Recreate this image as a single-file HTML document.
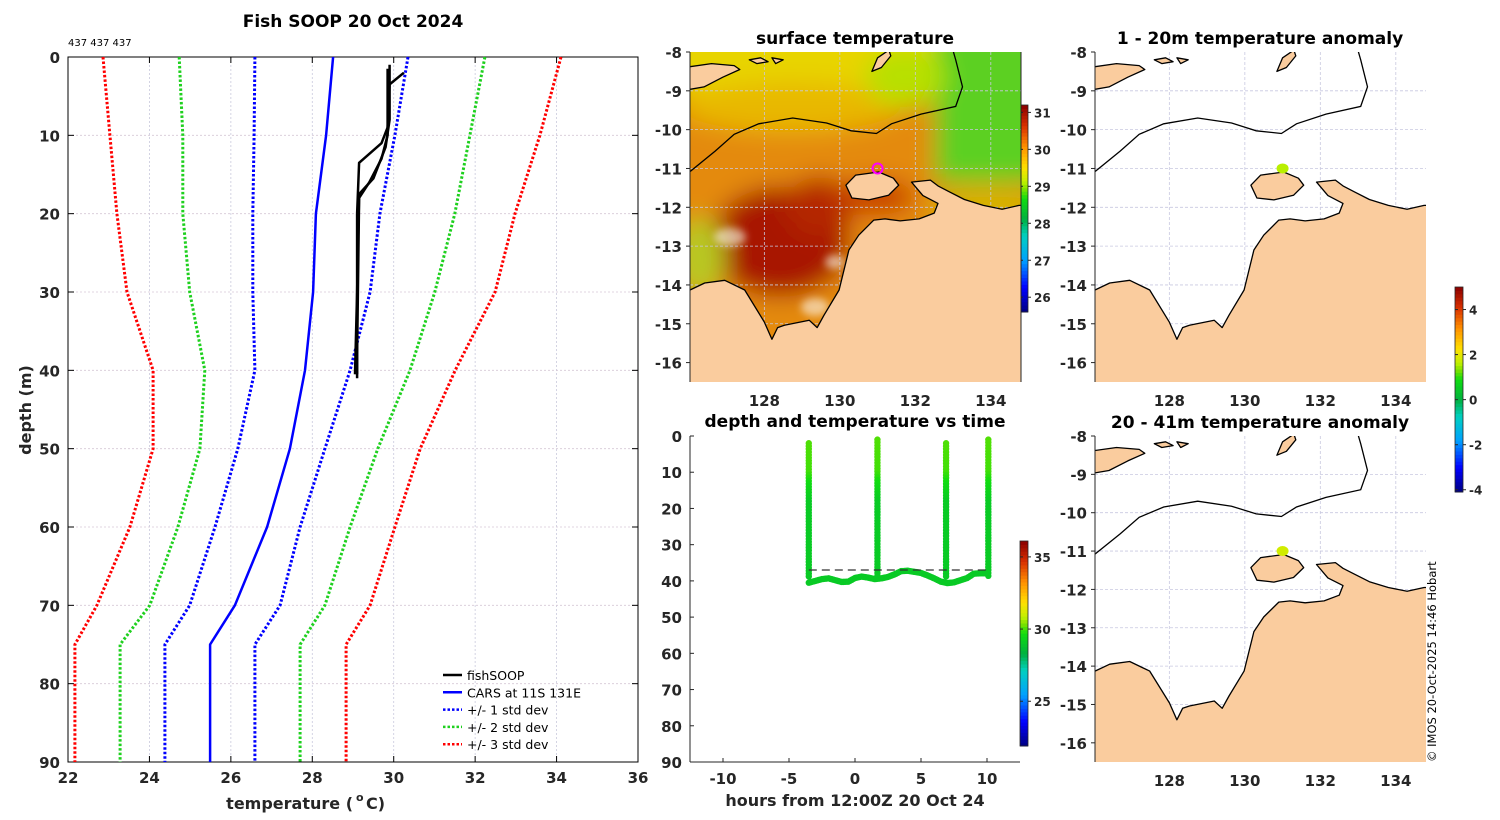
<!DOCTYPE html>
<html><head><meta charset="utf-8"><style>
html,body{margin:0;padding:0;background:#fff;}
svg{display:block;font-family:"DejaVu Sans","Liberation Sans",sans-serif;}
</style></head><body>
<svg id="fig" width="1500" height="820" viewBox="0 0 1500 820" xmlns="http://www.w3.org/2000/svg">
<defs>
<filter id="blur" x="-30%" y="-30%" width="160%" height="160%"><feGaussianBlur stdDeviation="12"/></filter>
<filter id="blur2" x="-30%" y="-30%" width="160%" height="160%"><feGaussianBlur stdDeviation="4"/></filter>
<clipPath id="clipMid"><rect x="690" y="52" width="331" height="330"/></clipPath>
<clipPath id="clipR1"><rect x="1095" y="52" width="331" height="330"/></clipPath>
<clipPath id="clipR2"><rect x="1095" y="436" width="331" height="326"/></clipPath>
</defs>
</svg>
<script>
// ---------- data: left profile chart ----------
const depths=[0,10,20,30,40,50,60,70,75,80,90];
const carsMean=[28.51,28.34,28.09,28.02,27.82,27.45,26.89,26.10,25.49,25.49,25.49];
const std1Lo=[26.59,26.57,26.54,26.54,26.59,26.17,25.61,24.99,24.38,24.38,24.38];
const std1Hi=[30.35,30.03,29.66,29.42,28.93,28.31,27.70,27.21,26.59,26.59,26.59];
const std2Lo=[24.73,24.82,24.82,24.99,25.36,25.24,24.70,24.01,23.28,23.28,23.28];
const std2Hi=[32.24,31.87,31.50,31.01,30.40,29.61,28.93,28.31,27.70,27.70,27.70];
const std3Lo=[22.86,23.03,23.20,23.45,24.09,24.09,23.52,22.71,22.17,22.17,22.17];
const std3Hi=[34.11,33.59,32.98,32.49,31.51,30.65,30.03,29.42,28.83,28.83,28.83];
const soopDepthA=[2,3.5,9,11,13.5,20,40,41];
const soopTempA=[30.25,29.9,29.85,29.7,29.15,29.1,29.1,29.1];
const soopDepthB=[1,8,11.5,15.5,17.5,30,40.5];
const soopTempB=[29.9,29.9,29.8,29.5,29.15,29.1,29.05];
const soopDepthC=[1.5,10,13,16,18,38,40.5];
const soopTempC=[29.85,29.85,29.7,29.4,29.15,29.1,29.1];
const tempTicks=[22,24,26,28,30,32,34,36];
const depthTicks=[0,10,20,30,40,50,60,70,80,90];
// ---------- data: depth vs time ----------
const profTimes=[-3.5,1.7,6.9,10.1];
const profTops=[2,1,2,1];
const bottomTimes=[-3.5,-3,-2.5,-2,-1.5,-1,-0.5,0,0.5,1,1.5,2,2.5,3,3.5,4,4.5,5,5.5,6,6.5,7,7.5,8,8.5,9,9.5,10];
const bottomDepths=[40.5,40,39.5,39.3,39.8,40.3,40.2,39.2,38.8,39.1,39.5,39.3,38.9,38.2,37.3,37.2,37.5,37.8,38.5,39.3,40.2,40.6,40.4,39.8,39.2,38,37.9,37.9];
const dashDepth=37;
const hourTicks=[-10,-5,0,5,10];
// ---------- data: maps ----------
const lonTicks=[128,130,132,134];
const latTicks=[-8,-9,-10,-11,-12,-13,-14,-15,-16];
const sstTicks=[26,27,28,29,30,31];
const anomTicks=[-4,-2,0,2,4];
const tsTicks=[25,30,35];
const shipLon=131.0, shipLat=-11.0, anomVal1=1.6, anomVal2=1.8;

const NS='http://www.w3.org/2000/svg';
const svg=document.getElementById('fig');
function mk(tag,attrs,parent){const e=document.createElementNS(NS,tag);for(const k in attrs)e.setAttribute(k,attrs[k]);(parent||svg).appendChild(e);return e;}
function txt(x,y,s,attrs,parent){const e=mk('text',Object.assign({x:x,y:y},attrs||{}),parent);e.textContent=s;return e;}
const TICKF={'font-size':15,'font-weight':'bold',fill:'#262626'};

const stops=[[0,'#00007f'],[0.12,'#0000ff'],[0.25,'#00a0ff'],[0.37,'#00d0c0'],[0.45,'#00b040'],[0.55,'#10dd10'],[0.59,'#70e000'],[0.63,'#c0f000'],[0.7,'#ffe000'],[0.8,'#ff9000'],[0.9,'#d83000'],[1,'#8b0000']];
function hex2(c){return [parseInt(c.substr(1,2),16),parseInt(c.substr(3,2),16),parseInt(c.substr(5,2),16)];}
function pal(v){v=Math.max(0,Math.min(1,v));for(let i=1;i<stops.length;i++){if(v<=stops[i][0]){const a=stops[i-1],b=stops[i];const f=(v-a[0])/(b[0]-a[0]);const ca=hex2(a[1]),cb=hex2(b[1]);return 'rgb('+ca.map((x,j)=>Math.round(x+(cb[j]-x)*f)).join(',')+')';}}return stops[stops.length-1][1];}

// ================= LEFT CHART =================
const L={x0:68,x1:638,y0:57,y1:762};
const lx=t=>L.x0+(t-22)/14*(L.x1-L.x0);
const ly=d=>L.y0+d/90*(L.y1-L.y0);
const gLeft=mk('g',{});


let e=txt(353,27,'Fish SOOP 20 Oct 2024',{'font-size':17,'font-weight':'bold','text-anchor':'middle'},gLeft);


e=txt(68,46,'437 437 437',{'font-size':10,fill:'#000'},gLeft);


for(const t of tempTicks){
  if(t>22&&t<36){const gl=mk('line',{x1:lx(t),x2:lx(t),y1:L.y0,y2:L.y1,stroke:'#c9c9dd','stroke-width':0.8,'stroke-dasharray':'2,2'},gLeft);
  
  }
  mk('line',{x1:lx(t),x2:lx(t),y1:L.y1,y2:L.y1-6,stroke:'#000'},gLeft);
  mk('line',{x1:lx(t),x2:lx(t),y1:L.y0,y2:L.y0+6,stroke:'#000'},gLeft);
  const tl=txt(lx(t),783,String(t),Object.assign({'text-anchor':'middle'},TICKF),gLeft);
  
  
}
for(const d of depthTicks){
  if(d>0&&d<90){const gl=mk('line',{x1:L.x0,x2:L.x1,y1:ly(d),y2:ly(d),stroke:'#d6c9d6','stroke-width':0.8,'stroke-dasharray':'2,2'},gLeft);
  
  }
  mk('line',{x1:L.x0,x2:L.x0+6,y1:ly(d),y2:ly(d),stroke:'#000'},gLeft);
  mk('line',{x1:L.x1,x2:L.x1-6,y1:ly(d),y2:ly(d),stroke:'#000'},gLeft);
  const tl=txt(60,ly(d)+6,String(d),Object.assign({'text-anchor':'end'},TICKF),gLeft);
  
  
}
e=mk('rect',{x:L.x0,y:L.y0,width:L.x1-L.x0,height:L.y1-L.y0,fill:'none',stroke:'#000','stroke-width':1},gLeft);


function profLine(temps,ds,color,dash,w,name){
  const pts=temps.map((t,i)=>lx(t).toFixed(1)+','+ly(ds[i]).toFixed(1)).join(' ');
  const p=mk('polyline',{points:pts,fill:'none',stroke:color,'stroke-width':w,'stroke-dasharray':dash||'none','stroke-linejoin':'round'},gLeft);
  
  
}
profLine(std3Lo,depths,'#ff0000','2.5,2',3,'std3-lower-line');
profLine(std3Hi,depths,'#ff0000','2.5,2',3,'std3-upper-line');
profLine(std2Lo,depths,'#1ed01e','2.5,2',3,'std2-lower-line');
profLine(std2Hi,depths,'#1ed01e','2.5,2',3,'std2-upper-line');
profLine(std1Lo,depths,'#0000ff','2.5,2',3,'std1-lower-line');
profLine(std1Hi,depths,'#0000ff','2.5,2',3,'std1-upper-line');
profLine(carsMean,depths,'#0000ff',null,2.5,'cars-mean-line');
profLine(soopTempA,soopDepthA,'#000',null,2.5,'fishsoop-profile-a');
profLine(soopTempB,soopDepthB,'#000',null,2.5,'fishsoop-profile-b');
profLine(soopTempC,soopDepthC,'#000',null,2.5,'fishsoop-profile-c');
e=txt(353,809,'temperature (',{'font-size':16,'font-weight':'bold','text-anchor':'end',fill:'#262626'},gLeft);


txt(356,801,'o',{'font-size':11,'font-weight':'bold',fill:'#262626'},gLeft);
txt(366,809,' C)',{'font-size':16,'font-weight':'bold',fill:'#262626'},gLeft);
e=txt(0,0,'depth (m)',{'font-size':16,'font-weight':'bold','text-anchor':'middle',fill:'#262626',transform:'translate(31,410) rotate(-90)'},gLeft);


const legItems=[['fishSOOP','#000',null],['CARS at 11S 131E','#0000ff',null],['+/- 1 std dev','#0000ff','2.5,2'],['+/- 2 std dev','#1ed01e','2.5,2'],['+/- 3 std dev','#ff0000','2.5,2']];
const gLeg=mk('g',{},gLeft);


legItems.forEach((it,i)=>{
  const y=675+i*17.3;
  const g=mk('g',{},gLeg);
  
  
  mk('line',{x1:443,x2:462,y1:y,y2:y,stroke:it[1],'stroke-width':2.5,'stroke-dasharray':it[2]||'none'},g);
  txt(467,y+5,it[0],{'font-size':12.5,fill:'#000'},g);
});

// ================= DEPTH VS TIME =================
const T={x0:690,x1:1020,y0:436,y1:762};
const tx=h=>T.x0+(h+12.5)/25*(T.x1-T.x0);
const ty=d=>T.y0+d/90*(T.y1-T.y0);
const tsMin=21.9,tsMax=36.1;
const gT=mk('g',{});


e=txt(855,427,'depth and temperature vs time',{'font-size':17,'font-weight':'bold','text-anchor':'middle'},gT);


mk('line',{x1:T.x0,x2:T.x0,y1:T.y0,y2:T.y1,stroke:'#262626','stroke-width':1},gT);
mk('line',{x1:T.x0,x2:T.x1,y1:T.y1,y2:T.y1,stroke:'#262626','stroke-width':1},gT);
for(const h of hourTicks){
  mk('line',{x1:tx(h),x2:tx(h),y1:T.y1,y2:T.y1-4,stroke:'#262626'},gT);
  const tl=txt(tx(h),784,String(h),Object.assign({'text-anchor':'middle'},TICKF),gT);
  
  
}
for(const d of depthTicks){
  mk('line',{x1:T.x0,x2:T.x0+4,y1:ty(d),y2:ty(d),stroke:'#262626'},gT);
  const tl=txt(682,ty(d)+6,String(d),Object.assign({'text-anchor':'end'},TICKF),gT);
  
  
}
e=txt(855,806,'hours from 12:00Z 20 Oct 24',{'font-size':16,'font-weight':'bold','text-anchor':'middle',fill:'#262626'},gT);


function tempAtDepth(d){return d<10?30.1-d*0.01:(d<18?30.0-(d-10)*0.11:29.12);}
profTimes.forEach((h,i)=>{
  const g=mk('g',{},gT);
  
  
  for(let d=profTops[i];d<=39;d+=0.8){
    mk('circle',{cx:tx(h),cy:ty(d),r:3.2,fill:pal((tempAtDepth(d)-tsMin)/(tsMax-tsMin))},g);
  }
});
const gB=mk('g',{},gT);


for(let i=0;i<bottomTimes.length-1;i++){
  for(let k=0;k<4;k++){
    const f=k/4;const h=bottomTimes[i]+(bottomTimes[i+1]-bottomTimes[i])*f;const d=bottomDepths[i]+(bottomDepths[i+1]-bottomDepths[i])*f;
    mk('circle',{cx:tx(h),cy:ty(d),r:3.2,fill:pal((29.1-tsMin)/(tsMax-tsMin))},gB);
  }
}
e=mk('line',{x1:tx(bottomTimes[0]),x2:tx(10),y1:ty(dashDepth),y2:ty(dashDepth),stroke:'#333','stroke-width':1.2,'stroke-dasharray':'8,5'},gT);



function colorbar(x,y0,y1,vmin,vmax,ticks,name){
  const g=mk('g',{});
  
  
  const n=60;const h=(y1-y0)/n;
  for(let i=0;i<n;i++){mk('rect',{x:x,y:y1-(i+1)*h,width:8,height:h+0.5,fill:pal((i+0.5)/n)},g);}
  mk('rect',{x:x,y:y0,width:8,height:y1-y0,fill:'none',stroke:'#262626','stroke-width':0.8},g);
  for(const t of ticks){const yy=y1-(t-vmin)/(vmax-vmin)*(y1-y0);
    mk('line',{x1:x+8,x2:x+11,y1:yy,y2:yy,stroke:'#262626'},g);
    mk('line',{x1:x,x2:x+3,y1:yy,y2:yy,stroke:'#262626'},g);
    txt(x+14,yy+5,String(t),{'font-size':12,'font-weight':'bold',fill:'#262626'},g);}
}
colorbar(1020,541,746,tsMin,tsMax,tsTicks,'time-temperature-colorbar');
colorbar(1020,105,312,25.6,31.2,sstTicks,'sst-colorbar');
colorbar(1455,287,492,-4.1,5.0,anomTicks,'anomaly-colorbar');

// ================= MAPS =================
const mainland=[[126.03,-14.13],[126.42,-13.95],[126.95,-13.88],[127.48,-14.13],[128.0,-14.96],[128.2,-15.4],[128.35,-15.1],[128.53,-15.04],[129.19,-14.91],[129.4,-15.1],[129.58,-14.78],[129.98,-14.13],[130.24,-13.1],[130.5,-12.72],[130.9,-12.33],[131.2,-12.3],[131.6,-12.35],[132.1,-12.3],[132.5,-12.15],[132.6,-11.9],[132.2,-11.7],[131.9,-11.35],[132.4,-11.3],[132.6,-11.45],[132.9,-11.6],[133.3,-11.8],[133.8,-11.95],[134.3,-12.05],[134.75,-11.95],[135.5,-11.95],[135.5,-17.5],[125.5,-17.5],[125.5,-14.13]];
const melville=[[130.16,-11.43],[130.42,-11.17],[131.03,-11.09],[131.42,-11.25],[131.56,-11.43],[131.29,-11.69],[130.77,-11.81],[130.32,-11.76]];
const timor=[[125.5,-8.45],[126.6,-8.3],[127.2,-8.35],[127.35,-8.45],[126.9,-8.65],[126.4,-8.9],[125.5,-9.05]];
const tanimbar=[[130.85,-8.5],[131.0,-8.15],[131.3,-7.95],[131.35,-8.1],[131.1,-8.4]];
const smallIsles=[[[127.6,-8.2],[127.9,-8.15],[128.1,-8.25],[127.8,-8.3]],[[128.2,-8.15],[128.5,-8.2],[128.3,-8.3]]];
const eez=[[125.5,-11.5],[126.03,-11.08],[126.7,-10.55],[127.2,-10.12],[127.85,-9.85],[128.75,-9.7],[129.65,-9.83],[130.3,-10.03],[130.97,-10.1],[131.37,-9.85],[132.15,-9.6],[133.07,-9.4],[133.25,-8.9],[133.07,-8.2],[132.95,-7.8]];
function mapPanel(X0,Y0,Y1,clip,title,name,kind){
  const px=lon=>X0+(lon-126.03)/8.77*331;
  const py=lat=>Y0+(-8-lat)/8.5*(Y1-Y0);
  const g=mk('g',{});
  
  
  e=txt(X0+165,Y0-8,title,{'font-size':17,'font-weight':'bold','text-anchor':'middle'},g);
  
  
  const inner=mk('g',{'clip-path':'url(#'+clip+')'},g);
  if(kind==='sst'){
    const f=mk('g',{filter:'url(#blur)'},inner);
    
    
    mk('rect',{x:X0-30,y:Y0-30,width:400,height:400,fill:'#e48a10'},f);
    mk('rect',{x:X0-30,y:Y0-30,width:400,height:70,fill:'#e8d400'},f);
    mk('ellipse',{cx:X0+100,cy:Y0+55,rx:110,ry:25,fill:'#e8b800'},f);
    mk('rect',{x:X0+245,y:Y0-30,width:120,height:160,fill:'#5cd020'},f);
    mk('ellipse',{cx:X0+215,cy:Y0+25,rx:40,ry:30,fill:'#b8e000'},f);
    mk('ellipse',{cx:X0+300,cy:Y0+160,rx:60,ry:25,fill:'#d8b000'},f);
    mk('ellipse',{cx:X0+90,cy:Y0+190,rx:70,ry:55,fill:'#a81400'},f);
    mk('ellipse',{cx:X0+130,cy:Y0+155,rx:35,ry:30,fill:'#b42800'},f);
    mk('ellipse',{cx:X0+10,cy:Y0+205,rx:25,ry:40,fill:'#b8c820'},f);
    mk('ellipse',{cx:X0+185,cy:Y0+145,rx:40,ry:18,fill:'#c84000'},f);
    const w=mk('g',{filter:'url(#blur2)',opacity:0.55},inner);
    mk('ellipse',{cx:X0+40,cy:Y0+185,rx:16,ry:9,fill:'#fff'},w);
    mk('ellipse',{cx:X0+125,cy:Y0+255,rx:14,ry:9,fill:'#fff'},w);
    mk('ellipse',{cx:X0+145,cy:Y0+210,rx:10,ry:7,fill:'#fff'},w);
  }
  for(const lo of lonTicks){mk('line',{x1:px(lo),x2:px(lo),y1:Y0,y2:Y1,stroke:'#c8c8e0','stroke-width':0.8,'stroke-dasharray':'3,2'},inner);
    const tl=txt(px(lo),Y1+24,String(lo),Object.assign({'text-anchor':'middle'},TICKF),g);
    
    }
  for(const la of latTicks){const yy=py(la);
    if(la<-8)mk('line',{x1:X0,x2:X0+331,y1:yy,y2:yy,stroke:'#c8c8e0','stroke-width':0.8,'stroke-dasharray':'3,2'},inner);
    mk('line',{x1:X0-4,x2:X0,y1:yy,y2:yy,stroke:'#262626'},g);
    const tl=txt(X0-8,yy+6,String(la),Object.assign({'text-anchor':'end'},TICKF),g);
    
    }
  const poly=(pts,nm)=>{const p=mk('polygon',{points:pts.map(q=>px(q[0]).toFixed(1)+','+py(q[1]).toFixed(1)).join(' '),fill:'#facc9e',stroke:'#000','stroke-width':1.3,'stroke-linejoin':'round'},inner);
    
    };
  poly(mainland,'australia-land');poly(melville,'tiwi-islands');poly(timor,'timor-island');poly(tanimbar,'tanimbar-island');
  smallIsles.forEach(s=>poly(s,'small-island'));
  const ez=mk('polyline',{points:eez.map(q=>px(q[0]).toFixed(1)+','+py(q[1]).toFixed(1)).join(' '),fill:'none',stroke:'#000','stroke-width':1.3},inner);
  
  
  mk('line',{x1:X0,x2:X0,y1:Y0,y2:Y1,stroke:'#262626','stroke-width':1},g);
  if(kind==='sst'){
    const m=mk('circle',{cx:px(shipLon),cy:py(shipLat),r:5,fill:'none',stroke:'#ff00ff','stroke-width':2},g);
    
    
    mk('line',{x1:X0+331,x2:X0+331,y1:Y0,y2:Y1,stroke:'#262626','stroke-width':1},g);
  } else {
    const v=kind==='a1'?anomVal1:anomVal2;
    const m=mk('ellipse',{cx:px(shipLon),cy:py(shipLat),rx:6,ry:5,fill:pal((v+4.1)/9.1)},g);
    
    
  }
}
mapPanel(690,52,382,'clipMid','surface temperature','surface-temperature-map','sst');
mapPanel(1095,52,382,'clipR1','1 - 20m temperature anomaly','anomaly-map-1-20m','a1');
mapPanel(1095,436,762,'clipR2','20 - 41m temperature anomaly','anomaly-map-20-41m','a2');
e=txt(0,0,'© IMOS 20-Oct-2025 14:46 Hobart',{'font-size':11.5,fill:'#000','text-anchor':'start',transform:'translate(1436,762) rotate(-90)'});


</script>
</body></html>
